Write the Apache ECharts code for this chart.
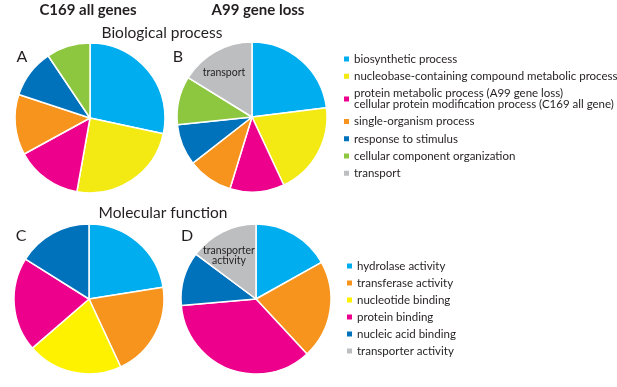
<!DOCTYPE html>
<html>
<head>
<meta charset="utf-8">
<script src="https://cdn.jsdelivr.net/npm/echarts@6/dist/echarts.min.js"></script>
<style>
  html, body { margin: 0; padding: 0; background: #fff; }
  #main { width: 617px; height: 387px; }
</style>
</head>
<body>
<div id="main"></div>
<script>
// categories
var bioNames = [
    'biosynthetic process',
    'nucleobase-containing compound metabolic process',
    'protein metabolic process (A99 gene loss)\ncellular protein modification process (C169 all gene)',
    'single-organism process',
    'response to stimulus',
    'cellular component organization',
    'transport'
];
var bioColors = ['#00aeef', '#f2ea12', '#ec008c', '#f7941d', '#0072bc', '#8dc63f', '#bcbec0'];
var molNames = [
    'hydrolase activity',
    'transferase activity',
    'nucleotide binding',
    'protein binding',
    'nucleic acid binding',
    'transporter activity'
];
var molColors = ['#00aeef', '#f7941d', '#fff200', '#ec008c', '#0072bc', '#bcbec0'];

// share of each category (percent)
var bioC169 = [28.3, 24.4, 14.2, 13.0, 10.5, 9.4, 0];
var bioA99 = [23.0, 20.0, 11.7, 9.7, 8.9, 10.4, 16.2];
var molC169 = [22.5, 20.6, 20.6, 20.3, 16.1, 0];
var molA99 = [16.9, 21.2, 0, 35.5, 11.6, 14.8];

var font = 'Lato, "Liberation Sans", sans-serif';

function pieData(names, colors, values) {
    var out = [];
    for (var i = 0; i < names.length; i++) {
        if (!values[i]) continue;
        out.push({ name: names[i], value: values[i], itemStyle: { color: colors[i] } });
    }
    return out;
}

function pie(center, names, colors, values) {
    return {
        type: 'pie',
        center: center,
        radius: 75,
        startAngle: 90,
        clockwise: true,
        silent: true,
        label: { show: false },
        labelLine: { show: false },
        itemStyle: { borderColor: '#fff', borderWidth: 1.5 },
        data: pieData(names, colors, values)
    };
}

function txt(x, y, s, size, weight) {
    return {
        type: 'text', x: x, y: y, z: 100,
        style: {
            text: s, fill: '#231f20', font: (weight || 'normal') + ' ' + size + 'px ' + font,
            textAlign: 'center', textVerticalAlign: 'middle', lineHeight: 10
        }
    };
}

var legendBase = {
    orient: 'vertical',
    icon: 'rect',
    itemWidth: 7,
    itemHeight: 7,
    selectedMode: false,
    textStyle: { fontFamily: font, fontSize: 11.5, color: '#231f20', lineHeight: 11, padding: [0, 0, 0, -1] }
};

var myChart = echarts.init(document.getElementById('main'));
var option = {
    animation: false,
    backgroundColor: '#fff',
    legend: [
        Object.assign({}, legendBase, { left: 337, top: 48, itemGap: 5.2, data: bioNames }),
        Object.assign({}, legendBase, { left: 340, top: 255, itemGap: 5, data: molNames })
    ],
    graphic: [
        txt(88, 10, 'C169 all genes', 15, 'bold'),
        txt(258, 10, 'A99 gene loss', 15, 'bold'),
        txt(162, 33, 'Biological process', 15.5),
        txt(163, 213, 'Molecular function', 15.5),
        txt(22, 57, 'A', 16),
        txt(178, 57, 'B', 16),
        txt(21, 236, 'C', 16),
        txt(187, 236, 'D', 16),
        txt(224, 73, 'transport', 10.5),
        txt(229, 256, 'transporter\nactivity', 10.5)
    ],
    series: [
        pie([90, 118], bioNames, bioColors, bioC169),
        pie([252, 117], bioNames, bioColors, bioA99),
        pie([89, 299], molNames, molColors, molC169),
        pie([256, 299], molNames, molColors, molA99)
    ]
};
myChart.setOption(option);
</script>
</body>
</html>
